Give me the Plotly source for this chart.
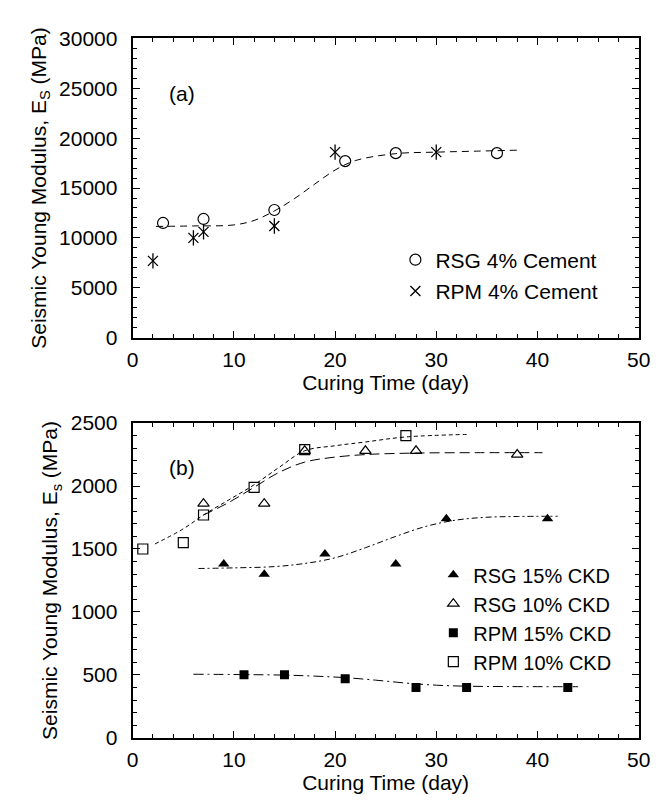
import plotly.graph_objects as go

# ---------------- data: panel (a) ----------------
rsg4_day = [3, 7, 14, 21, 26, 36]
rsg4_E = [11500, 11900, 12800, 17700, 18500, 18500]
rpm4_day = [2, 6, 7, 14, 20, 30]
rpm4_E = [7700, 10000, 10600, 11200, 18600, 18600]
fit4_day = [2.3, 6, 10, 12, 14, 16, 18, 20, 22, 26, 30, 34, 38.2]
fit4_E = [11150, 11200, 11300, 11750, 12700, 13950, 15400, 16800, 17750, 18450, 18600, 18700, 18800]

# ---------------- data: panel (b) ----------------
rsg15_day = [9, 13, 19, 26, 31, 41]
rsg15_E = [1380, 1300, 1460, 1380, 1740, 1740]
rsg10_day = [7, 13, 17, 23, 28, 38]
rsg10_E = [1860, 1860, 2280, 2280, 2280, 2250]
rpm15_day = [11, 15, 21, 28, 33, 43]
rpm15_E = [500, 500, 470, 400, 400, 400]
rpm10_day = [1, 5, 7, 12, 17, 27]
rpm10_E = [1500, 1550, 1770, 1990, 2290, 2400]

fit_rpm10_day = [2.2, 5, 7, 9.5, 12, 14.5, 17, 20, 23, 27, 33]
fit_rpm10_E = [1540, 1660, 1770, 1890, 2010, 2150, 2280, 2320, 2350, 2390, 2410]
fit_rsg10_day = [7, 9.5, 12, 14.5, 17, 19.5, 23, 28, 34, 40.5]
fit_rsg10_E = [1770, 1870, 1990, 2110, 2190, 2225, 2250, 2262, 2265, 2265]
fit_rsg15_day = [6.5, 10, 14, 17, 20, 23, 26, 29, 32, 35, 38, 42]
fit_rsg15_E = [1345, 1350, 1360, 1385, 1430, 1510, 1600, 1680, 1730, 1752, 1758, 1760]
fit_rpm15_day = [6, 11, 15, 18, 21, 24, 27, 30, 33, 37, 44]
fit_rpm15_E = [505, 502, 498, 490, 478, 458, 435, 418, 410, 407, 406]

FONT = "Liberation Sans, Arial, sans-serif"
BLACK = "black"
FS = 21

fig = go.Figure()

# ---- panel (a) ----
fig.add_trace(go.Scatter(x=fit4_day, y=fit4_E, mode="lines", line=dict(color=BLACK, width=1, dash="7px,5px"),
                         line_shape="spline", showlegend=False, xaxis="x", yaxis="y", hoverinfo="skip"))
fig.add_trace(go.Scatter(x=rsg4_day, y=rsg4_E, mode="markers", name="RSG 4% Cement",
                         marker=dict(symbol="circle-open", size=11, color=BLACK, line=dict(width=1.2)),
                         xaxis="x", yaxis="y", legend="legend", legendgroup="a1"))
fig.add_trace(go.Scatter(x=rpm4_day, y=rpm4_E, mode="markers", name="RPM 4% Cement",
                         marker=dict(symbol="x-thin-open", size=10, color=BLACK, line=dict(width=1.3, color=BLACK)),
                         xaxis="x", yaxis="y", legend="legend", legendgroup="a2"))
fig.add_trace(go.Scatter(x=rpm4_day, y=rpm4_E, mode="markers", showlegend=False,
                         marker=dict(symbol="line-ns-open", size=11, color=BLACK, line=dict(width=1.3, color=BLACK)),
                         xaxis="x", yaxis="y", legend="legend", legendgroup="a2"))

# ---- panel (b) ----
fig.add_trace(go.Scatter(x=fit_rpm10_day, y=fit_rpm10_E, mode="lines", line=dict(color=BLACK, width=1, dash="4px,3px"),
                         line_shape="spline", showlegend=False, xaxis="x2", yaxis="y2", hoverinfo="skip"))
fig.add_trace(go.Scatter(x=fit_rsg10_day, y=fit_rsg10_E, mode="lines", line=dict(color=BLACK, width=1, dash="10px,5px"),
                         line_shape="spline", showlegend=False, xaxis="x2", yaxis="y2", hoverinfo="skip"))
fig.add_trace(go.Scatter(x=fit_rsg15_day, y=fit_rsg15_E, mode="lines", line=dict(color=BLACK, width=1, dash="6px,3px,2px,3px"),
                         line_shape="spline", showlegend=False, xaxis="x2", yaxis="y2", hoverinfo="skip"))
fig.add_trace(go.Scatter(x=fit_rpm15_day, y=fit_rpm15_E, mode="lines", line=dict(color=BLACK, width=1, dash="10px,4px,2px,4px"),
                         line_shape="spline", showlegend=False, xaxis="x2", yaxis="y2", hoverinfo="skip"))

fig.add_trace(go.Scatter(x=rsg15_day, y=rsg15_E, mode="markers", name="RSG 15% CKD",
                         marker=dict(symbol="triangle-up", size=10, color=BLACK),
                         xaxis="x2", yaxis="y2", legend="legend2"))
fig.add_trace(go.Scatter(x=rsg10_day, y=rsg10_E, mode="markers", name="RSG 10% CKD",
                         marker=dict(symbol="triangle-up-open", size=10, color=BLACK, line=dict(width=1.2)),
                         xaxis="x2", yaxis="y2", legend="legend2"))
fig.add_trace(go.Scatter(x=rpm15_day, y=rpm15_E, mode="markers", name="RPM 15% CKD",
                         marker=dict(symbol="square", size=9, color=BLACK),
                         xaxis="x2", yaxis="y2", legend="legend2"))
fig.add_trace(go.Scatter(x=rpm10_day, y=rpm10_E, mode="markers", name="RPM 10% CKD",
                         marker=dict(symbol="square-open", size=10, color=BLACK, line=dict(width=1.2)),
                         xaxis="x2", yaxis="y2", legend="legend2"))

W, H = 665, 802
xdom = [122 / W, 642 / W]
ydom_a = [1 - 327 / H, 1 - 19 / H]
ydom_b = [1 - 739 / H, 1 - 415 / H]

tickfont = dict(family=FONT, size=FS, color=BLACK)


def xaxis_cfg(anchor):
    return dict(domain=xdom, range=[0, 50], dtick=10, tick0=0, anchor=anchor,
                showline=True, linecolor=BLACK, linewidth=2, mirror="allticks",
                ticks="inside", ticklen=7, tickwidth=1, tickcolor=BLACK, ticklabelstandoff=2,
                minor=dict(dtick=2, ticks="inside", ticklen=4, tickwidth=1, tickcolor=BLACK),
                showgrid=False, zeroline=False, tickfont=tickfont,
                title=dict(text="Curing Time (day)", font=dict(family=FONT, size=FS, color=BLACK), standoff=4))


def yaxis_cfg(anchor, dom, rng, dt, mdt, title):
    return dict(domain=dom, range=rng, dtick=dt, tick0=0, anchor=anchor,
                showline=True, linecolor=BLACK, linewidth=2, mirror="allticks",
                ticks="inside", ticklen=7, tickwidth=1, tickcolor=BLACK, ticklabelstandoff=9,
                minor=dict(dtick=mdt, ticks="inside", ticklen=4, tickwidth=1, tickcolor=BLACK),
                showgrid=False, zeroline=False, tickfont=tickfont, tickformat="d",
                title=dict(text=title, font=dict(family=FONT, size=FS, color=BLACK), standoff=7))


fig.update_layout(
    width=W, height=H, autosize=False,
    margin=dict(l=0, r=0, t=0, b=0),
    paper_bgcolor="white", plot_bgcolor="white",
    font=dict(family=FONT, color=BLACK),
    xaxis=xaxis_cfg("y"),
    yaxis=yaxis_cfg("x", ydom_a, [0, 30000], 5000, 1000, "Seismic Young Modulus, E<sub>S</sub> (MPa)"),
    xaxis2=xaxis_cfg("y2"),
    yaxis2=yaxis_cfg("x2", ydom_b, [0, 2500], 500, 100, "Seismic Young Modulus, E<sub>s</sub> (MPa)"),
    legend=dict(x=392 / W, y=1 - 226 / H, xanchor="left", yanchor="top", bgcolor="rgba(0,0,0,0)",
                font=dict(family=FONT, size=FS, color=BLACK), tracegroupgap=1, itemwidth=30),
    legend2=dict(x=431 / W, y=1 - 551 / H, xanchor="left", yanchor="top", bgcolor="rgba(0,0,0,0)",
                 font=dict(family=FONT, size=20, color=BLACK), itemwidth=30, tracegroupgap=0),
    annotations=[
        dict(text="(a)", x=0.067, y=0.86, xref="x domain", yref="y domain", showarrow=False,
             font=dict(family=FONT, size=FS, color=BLACK)),
        dict(text="(b)", x=0.067, y=0.902, xref="x2 domain", yref="y2 domain", showarrow=False,
             font=dict(family=FONT, size=FS, color=BLACK)),
    ],
)

fig.write_html("out.html")
